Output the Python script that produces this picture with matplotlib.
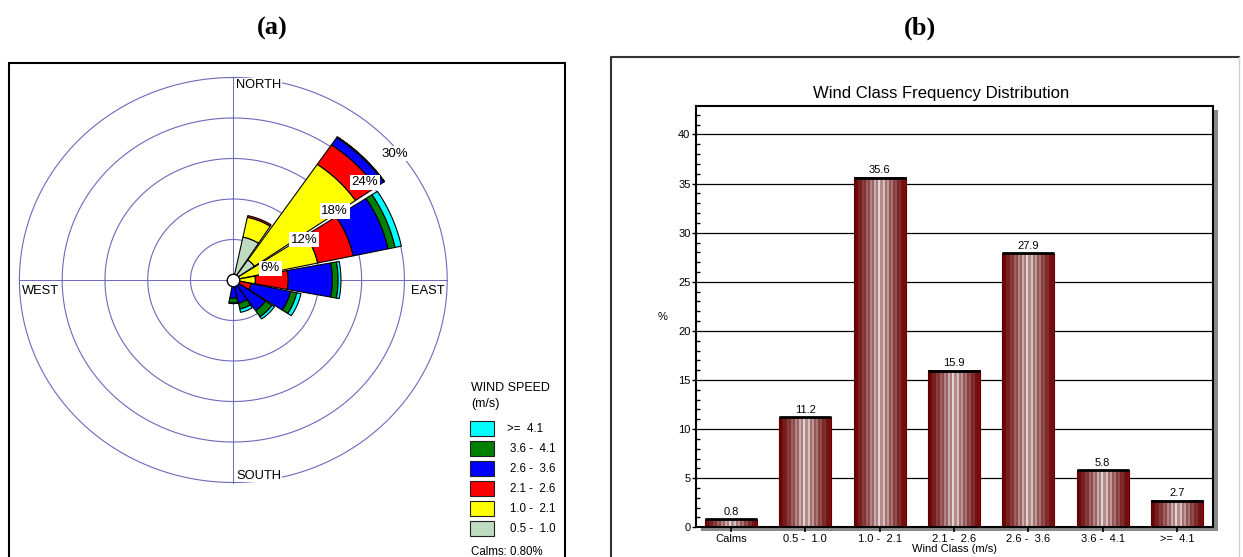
import matplotlib.pyplot as plt
import numpy as np
from matplotlib.patches import Rectangle
from matplotlib.lines import Line2D
from matplotlib.ticker import MultipleLocator

plt.rcParams['font.family'] = ['Liberation Sans', 'DejaVu Sans']

# wind rose: percent of hours per direction, one list per speed class
directions = ['N', 'NNE', 'NE', 'ENE', 'E', 'ESE', 'SE', 'SSE',
              'S', 'SSW', 'SW', 'WSW', 'W', 'WNW', 'NW', 'NNW']
speed_labels = ['0.5 -  1.0', '1.0 -  2.1', '2.1 -  2.6', '2.6 -  3.6', '3.6 -  4.1', '>=  4.1']
speed_colors = ['#c0dcc0', '#ffff00', '#ff0000', '#0000ff', '#008000', '#00ffff']
freq_05_10 = [0.4, 6.5, 3.6, 0.3, 0.2, 0.1, 0.0, 0.0, 0.0, 0, 0, 0, 0, 0, 0, 0]
freq_10_21 = [0.2, 3.0, 17.2, 11.8, 2.9, 0.7, 0.3, 0.1, 0.1, 0, 0, 0, 0, 0, 0, 0]
freq_21_26 = [0.0, 0.25, 3.5, 5.1, 4.6, 1.8, 0.5, 0.2, 0.1, 0, 0, 0, 0, 0, 0, 0]
freq_26_36 = [0.0, 0.0, 1.3, 5.0, 6.2, 5.6, 4.7, 3.2, 2.5, 0, 0, 0, 0, 0, 0, 0]
freq_36_41 = [0.0, 0.0, 0.1, 1.0, 0.8, 0.9, 1.1, 0.9, 0.7, 0, 0, 0, 0, 0, 0, 0]
freq_ge_41 = [0.0, 0.0, 0.05, 0.9, 0.4, 0.6, 0.4, 0.5, 0.1, 0, 0, 0, 0, 0, 0, 0]
calms_pct = 0.80
ring_pct = [6, 12, 18, 24, 30]

# class frequency distribution
wind_class = ['Calms', '0.5 -  1.0', '1.0 -  2.1', '2.1 -  2.6', '2.6 -  3.6', '3.6 -  4.1', '>=  4.1']
class_pct = [0.8, 11.2, 35.6, 15.9, 27.9, 5.8, 2.7]

W, H = 1243, 557
fig = plt.figure(figsize=(W / 100, H / 100), dpi=100)


def fig_box(x0, y0, x1, y1):
    # pixel box measured from the top-left corner -> figure fractions
    return [x0 / W, 1 - y1 / H, (x1 - x0) / W, (y1 - y0) / H]


def fx(px):
    return px / W


def fy(py):
    return 1 - py / H


# panel frames
fig.patches.append(Rectangle((fx(9), fy(575)), 556 / W, 512 / H, transform=fig.transFigure,
                             fill=False, ec='black', lw=1.5))
fig.add_artist(Line2D([fx(611), fx(611), fx(1239)], [fy(575), fy(57), fy(57)],
                      transform=fig.transFigure, color='#333333', lw=1.5))
fig.add_artist(Line2D([fx(1239), fx(1239)], [fy(57), fy(575)],
                      transform=fig.transFigure, color='#d0d0d0', lw=1))

fig.text(fx(272), fy(28), '(a)', ha='center', va='center', fontsize=19,
         fontweight='bold', family='Liberation Serif')
fig.text(fx(920), fy(28), '(b)', ha='center', va='center', fontsize=19,
         fontweight='bold', family='Liberation Serif')

# ---- wind rose ----
cx, cy, sx, sy = 233.3, 280.0, 7.13, 6.75   # centre in px, px per percent
rx0, ry0, rx1, ry1 = 10, 64, 564, 575
ax = fig.add_axes(fig_box(rx0, ry0, rx1, ry1))
ax.set_xlim((rx0 - cx) / sx, (rx1 - cx) / sx)
ax.set_ylim((cy - ry1) / sy, (cy - ry0) / sy)
ax.set_axis_off()

grid_col = '#6a6abd'
phi = np.linspace(0, 2 * np.pi, 361)
for r in ring_pct:
    ax.plot(r * np.sin(phi), r * np.cos(phi), color=grid_col, lw=0.8, zorder=1)
ax.plot([-30, 30], [0, 0], color=grid_col, lw=0.7, zorder=1)
ax.plot([0, 0], [-30, 30], color=grid_col, lw=0.7, zorder=1)

stack = np.array([freq_05_10, freq_10_21, freq_21_26, freq_26_36, freq_36_41, freq_ge_41])
theta = np.deg2rad(np.arange(len(directions)) * 22.5)
half = np.deg2rad(10.5)
base = np.zeros(len(directions))
for k in range(len(speed_labels)):
    for i in range(len(directions)):
        v = stack[k, i]
        if v <= 0:
            continue
        r0, r1 = base[i], base[i] + v
        a = np.linspace(theta[i] - half, theta[i] + half, 40)
        xs = np.concatenate([r1 * np.sin(a), r0 * np.sin(a[::-1])])
        ys = np.concatenate([r1 * np.cos(a), r0 * np.cos(a[::-1])])
        ax.fill(xs, ys, fc=speed_colors[k], ec='black', lw=0.8, zorder=3)
    base += stack[k]

ax.plot(0, 0, 'o', ms=9, mfc='white', mec='black', mew=1, zorder=6)

s45 = np.sin(np.pi / 4)
for r in ring_pct:
    ax.text(r * s45 - 0.4, r * s45 - 2.5, f'{r}%', ha='left', va='center', fontsize=9.5,
            zorder=7, bbox=dict(boxstyle='square,pad=0.12', fc='white', ec='none'))

lab_box = dict(boxstyle='square,pad=0.05', fc='white', ec='none')
ax.text(0.4, 29.8, 'NORTH', ha='left', va='top', fontsize=9.3, bbox=lab_box, zorder=2)
ax.text(0.4, -29.9, 'SOUTH', ha='left', va='bottom', fontsize=9.3, bbox=lab_box, zorder=2)
ax.text(-29.6, -0.7, 'WEST', ha='left', va='top', fontsize=9.3, zorder=2)
ax.text(29.7, -0.7, 'EAST', ha='right', va='top', fontsize=9.3, zorder=2)

# speed legend, strongest class on top
fig.text(fx(471), fy(388), 'WIND SPEED', ha='left', va='center', fontsize=9)
fig.text(fx(471), fy(404), '(m/s)', ha='left', va='center', fontsize=9)
for j, (lab, col) in enumerate(zip(speed_labels[::-1], speed_colors[::-1])):
    top = 421 + j * 20
    fig.patches.append(Rectangle((fx(470), fy(top + 15)), 24 / W, 15 / H, transform=fig.transFigure,
                                 fc=col, ec='#202020', lw=0.8))
    tx = 507 if lab.startswith('>') else 510
    fig.text(fx(tx), fy(top + 8), lab, ha='left', va='center', fontsize=8.3)
fig.text(fx(471), fy(552), f'Calms: {calms_pct:.2f}%', ha='left', va='center', fontsize=8.3)

# ---- class frequency bars ----
bx0, by0, bx1, by1 = 696, 106, 1212.7, 527.3
fig.patches.append(Rectangle((fx(bx0 + 5), fy(by1 + 4)), (bx1 - bx0) / W, (by1 - by0) / H,
                             transform=fig.transFigure, fc='#8a8a8a', ec='none', zorder=-1))
bx = fig.add_axes(fig_box(bx0, by0, bx1, by1))

# vertical stripe shading used inside each bar
n_str = 26
pos = (np.arange(n_str) + 0.5) / n_str
t = 1 - np.abs(2 * pos - 1)
f = t ** 1.2 * np.where(np.arange(n_str) % 2 == 0, 1.0, 0.65)
dark = np.array([0.40, 0.0, 0.0])
pale = np.array([0.90, 0.88, 0.88])
stripes = dark + (pale - dark) * f[:, None]
stripes[-1] = [0.62, 0.0, 0.0]
stripes = stripes[None, :, :]

x = np.arange(len(wind_class))
bw = 0.7
for xi, v in zip(x, class_pct):
    bx.imshow(stripes, extent=(xi - bw / 2, xi + bw / 2, 0, v), aspect='auto',
              interpolation='nearest', zorder=2)
bars = bx.bar(x, class_pct, bw, fill=False, ec='#5a0000', lw=0.8, zorder=3)
bx.hlines(class_pct, x - bw / 2, x + bw / 2, colors='black', lw=2.0, zorder=4)
bx.bar_label(bars, labels=[f'{v:.1f}' for v in class_pct], padding=2, fontsize=8)

bx.set_xlim(-0.47, 6.48)
bx.set_ylim(0, 42.9)
bx.set_xticks(x, wind_class, fontsize=8)
bx.set_yticks(range(0, 41, 5))
bx.yaxis.set_minor_locator(MultipleLocator(1))
bx.tick_params(axis='y', which='major', direction='out', length=3, width=1, labelsize=8, pad=1)
bx.tick_params(axis='y', which='minor', direction='in', length=3, width=1)
bx.tick_params(axis='x', which='major', direction='inout', length=7, width=1.2, pad=1)
bx.yaxis.grid(True, color='black', lw=0.9)
bx.set_axisbelow(True)
for sp in bx.spines.values():
    sp.set_linewidth(1.5)

bx.set_title('Wind Class Frequency Distribution', fontsize=12, pad=6, x=0.475)
bx.set_xlabel('Wind Class (m/s)', fontsize=8, labelpad=0)
bx.text(-0.064, 0.5, '%', transform=bx.transAxes, ha='center', va='center', fontsize=8)

fig.savefig('out.png', dpi=100)
